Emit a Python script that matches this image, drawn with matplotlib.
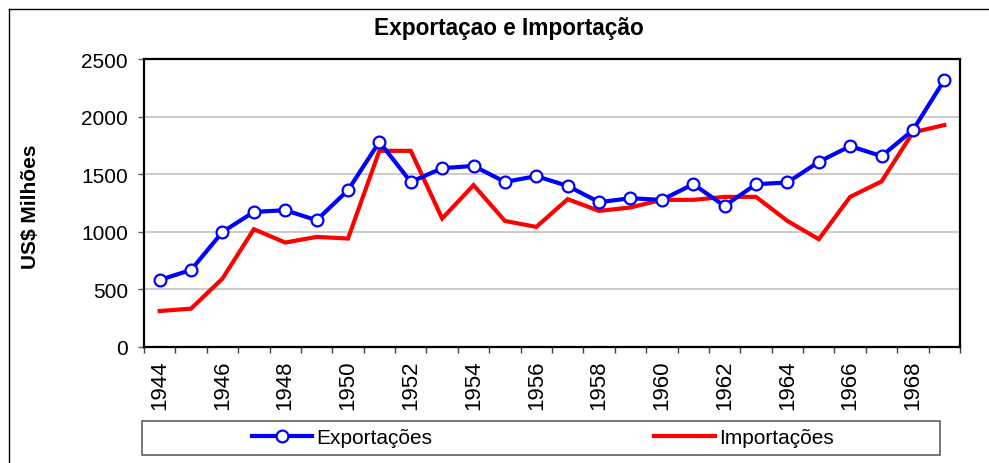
import matplotlib
matplotlib.use("Agg")
import matplotlib.pyplot as plt
from matplotlib.lines import Line2D
from matplotlib.patches import Rectangle

plt.rcParams['font.family'] = ['Liberation Sans', 'DejaVu Sans']

years = list(range(1944, 1970))
exportacoes = [580, 667, 997, 1171, 1186, 1099, 1360, 1780, 1432, 1551, 1571, 1432, 1482,
               1397, 1256, 1290, 1276, 1412, 1223, 1412, 1427, 1606, 1743, 1656, 1882, 2317]
importacoes = [310, 331, 592, 1021, 905, 954, 940, 1702, 1702, 1114, 1404, 1093, 1041,
               1282, 1180, 1210, 1276, 1276, 1302, 1302, 1093, 934, 1302, 1436, 1862, 1926]
yticks = [0, 500, 1000, 1500, 2000, 2500]
title = "Exportaçao e Importação"
ylabel = "US$ Milhões"
labels = ["Exportações", "Importações"]

W, H = 989, 464
fig = plt.figure(figsize=(W / 100, H / 100), dpi=100)
ax = fig.add_axes([144 / W, 1 - 347.7 / H, (960 - 144) / W, (347.7 - 60) / H])

x = list(range(len(years)))
l_imp, = ax.plot(x, importacoes, color='#ff0000', lw=3.0, zorder=3, solid_joinstyle='miter')
l_exp, = ax.plot(x, exportacoes, color='#0000ff', lw=3.0, zorder=4, marker='o',
                 markersize=8.5, markerfacecolor='white', markeredgecolor='#0000ff',
                 markeredgewidth=1.6)

ax.set_xlim(-0.5, len(years) - 0.5)
ax.set_ylim(0, 2500)
ax.set_yticks(yticks)
ax.set_yticklabels([str(v) for v in yticks], fontsize=15)
ax.yaxis.grid(True, color='#c8c8c8', lw=1.3, zorder=0)
ax.set_axisbelow(True)

# category boundary ticks (major), labels at even years (minor)
ax.set_xticks([i - 0.5 for i in range(len(years) + 1)])
ax.set_xticklabels([])
ax.set_xticks([i for i in range(0, len(years), 2)], minor=True)
ax.set_xticklabels([str(years[i]) for i in range(0, len(years), 2)], minor=True,
                   rotation=90, fontsize=16)
ax.tick_params(axis='x', which='major', direction='out', length=4.5, width=1, color='#404040')
ax.tick_params(axis='x', which='minor', length=0, pad=9)
ax.tick_params(axis='y', direction='out', length=4.5, width=1, color='#606060', pad=7)
for s in ax.spines.values():
    s.set_linewidth(1.6)
    s.set_color('black')

fig.text(509 / W, 1 - 29 / H, title, ha='center', va='center', fontsize=16.3, fontweight='bold')
fig.text(30 / W, 1 - 207 / H, ylabel, ha='center', va='center', rotation=90,
         fontsize=15, fontweight='bold')

# legend frame
fig.add_artist(Rectangle((142 / W, 1 - 456 / H), (940 - 142) / W, (456 - 422) / H,
                         transform=fig.transFigure, fill=False, edgecolor='#505050', lw=1.1))
leg1 = fig.legend([l_exp], [labels[0]], loc='center', bbox_to_anchor=(342 / W, 1 - 439 / H),
                  frameon=False, fontsize=15, handlelength=2.9, handletextpad=0.2,
                  borderpad=0, borderaxespad=0)
leg2 = fig.legend([l_imp], [labels[1]], loc='center', bbox_to_anchor=(744 / W, 1 - 439 / H),
                  frameon=False, fontsize=15, handlelength=2.9, handletextpad=0.2,
                  borderpad=0, borderaxespad=0)

# outer chart frame (left and top edges visible)
fig.add_artist(Line2D([8.5 / W, 8.5 / W], [0, 1 - 10 / H], transform=fig.transFigure,
                      color='black', lw=1.0))
fig.add_artist(Line2D([8.5 / W, 1], [1 - 10 / H, 1 - 10 / H], transform=fig.transFigure,
                      color='black', lw=1.0))

fig.savefig("out.png", dpi=100)
